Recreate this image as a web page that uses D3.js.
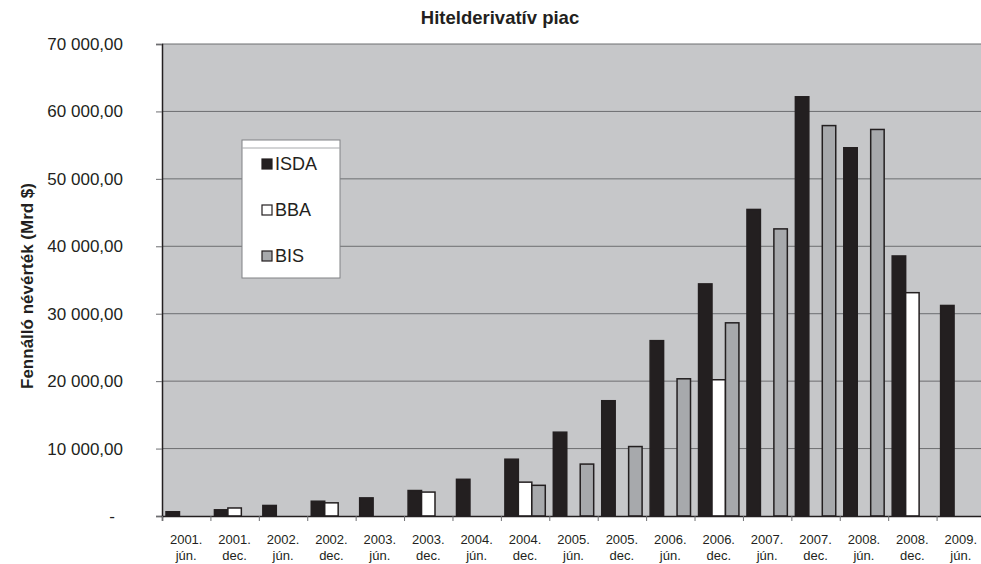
<!DOCTYPE html>
<html>
<head>
<meta charset="utf-8">
<script src="https://cdn.jsdelivr.net/npm/d3@7"></script>
<style>
  body { margin: 0; background: #fff; }
  text { font-family: "Liberation Sans", Arial, sans-serif; fill: #231f20; }
</style>
</head>
<body>
<svg id="chart-svg"></svg>
<script>
const width = 981
const height = 564

// categories (year / half-year)
const years = ['2001.', '2001.', '2002.', '2002.', '2003.', '2003.', '2004.', '2004.', '2005.',
  '2005.', '2006.', '2006.', '2007.', '2007.', '2008.', '2008.', '2009.']
const halves = ['jún.', 'dec.', 'jún.', 'dec.', 'jún.', 'dec.', 'jún.', 'dec.', 'jún.',
  'dec.', 'jún.', 'dec.', 'jún.', 'dec.', 'jún.', 'dec.', 'jún.']

const seriesNames = ['ISDA', 'BBA', 'BIS']
const isda = [632, 919, 1563, 2192, 2688, 3779, 5442, 8422, 12430, 17096, 26006, 34423, 45465, 62173, 54612, 38564, 31224]
const bba = [null, 1189, null, 1952, null, 3548, null, 5021, null, null, null, 20207, null, null, null, 33120, null]
const bis = [null, null, null, null, null, null, null, 4550, 7700, 10300, 20350, 28650, 42580, 57900, 57325, null, null]
const yTicks = [0, 10000, 20000, 30000, 40000, 50000, 60000, 70000]

const colors = { ISDA: '#231f20', BBA: '#ffffff', BIS: '#a7a9ac' }

const svg = d3.select('svg#chart-svg').attr('width', width).attr('height', height)

const pLeft = 162, pRight = 985, pTop = 44, pBottom = 516

const x0 = d3.scaleBand().domain(d3.range(years.length)).range([pLeft, pRight])
  .paddingInner(0.166).paddingOuter(0.083)
const x1 = d3.scaleBand().domain(seriesNames).range([0, x0.bandwidth()])
const y = d3.scaleLinear().domain([0, 70000]).range([pBottom, pTop])

// plot background
svg.append('rect')
  .attr('x', pLeft).attr('y', pTop)
  .attr('width', pRight - pLeft).attr('height', pBottom - pTop)
  .attr('fill', '#c6c7c9')

// gridlines
svg.append('g').selectAll('line').data(yTicks.slice(1)).enter().append('line')
  .attr('x1', pLeft).attr('x2', pRight)
  .attr('y1', d => y(d)).attr('y2', d => y(d))
  .attr('stroke', '#6d6e71').attr('stroke-width', 1)

// bars
const table = years.map((yr, i) => ({ i: i, ISDA: isda[i], BBA: bba[i], BIS: bis[i] }))
const groups = svg.append('g').selectAll('g').data(table).enter().append('g')
  .attr('transform', d => `translate(${x0(d.i)},0)`)

groups.selectAll('rect')
  .data(d => seriesNames.filter(s => d[s] != null).map(s => ({ key: s, value: d[s] })))
  .enter().append('rect')
  .attr('x', d => x1(d.key))
  .attr('y', d => y(d.value))
  .attr('width', x1.bandwidth())
  .attr('height', d => pBottom - y(d.value))
  .attr('fill', d => colors[d.key])
  .attr('stroke', '#231f20')
  .attr('stroke-width', 1.5)

// axes
const yAxis = d3.axisLeft(y).tickValues(yTicks).tickSize(6)
  .tickFormat(d => d === 0 ? '-' : d3.format(',.2f')(d).replace(/,/g, ' ').replace('.', ','))
const gy = svg.append('g').attr('transform', `translate(${pLeft},0)`).call(yAxis)
gy.select('.domain').attr('stroke', '#231f20').attr('stroke-width', 1.5)
gy.selectAll('.tick line').attr('stroke', '#6d6e71')
gy.selectAll('.tick text')
  .attr('x', -39)
  .style('font-size', '17px')
  .attr('fill', '#231f20')
gy.selectAll('.tick text').filter(d => d === 0).attr('x', -47)

const xAxis = d3.axisBottom(d3.scaleLinear().domain([0, years.length]).range([pLeft, pLeft + 17 * x0.step()]))
  .tickValues(d3.range(years.length + 1)).tickSize(5).tickFormat('')
const gx = svg.append('g').attr('transform', `translate(0,${pBottom})`).call(xAxis)
gx.select('.domain').attr('stroke', '#231f20').attr('stroke-width', 1.5)
gx.selectAll('.tick line').attr('stroke', '#6d6e71')

// category labels, two lines each
const lblX = d => x0(d.i) + x0.bandwidth() / 2
const lbl = svg.append('g').style('font-size', '13px')
lbl.selectAll('text.yr').data(table).enter().append('text')
  .attr('class', 'yr')
  .attr('text-anchor', 'middle')
  .attr('x', lblX).attr('y', 544)
  .text(d => years[d.i])
lbl.selectAll('text.hf').data(table).enter().append('text')
  .attr('class', 'hf')
  .attr('text-anchor', 'middle')
  .attr('x', lblX).attr('y', 559.5)
  .text(d => halves[d.i])

// title
svg.append('text')
  .attr('x', 500).attr('y', 24)
  .attr('text-anchor', 'middle')
  .style('font-size', '18.5px').style('font-weight', 'bold')
  .text('Hitelderivatív piac')

// y axis title
svg.append('text')
  .attr('transform', 'translate(33,286) rotate(-90)')
  .attr('text-anchor', 'middle')
  .style('font-size', '17px').style('font-weight', 'bold')
  .text('Fennálló névérték (Mrd $)')

// legend
const legend = svg.append('g').attr('transform', 'translate(242,140)')
legend.append('rect')
  .attr('x', 0).attr('y', 0).attr('width', 98).attr('height', 138)
  .attr('fill', '#fff').attr('stroke', '#808285').attr('stroke-width', 1)
legend.append('line')
  .attr('x1', 0).attr('x2', 98).attr('y1', 8).attr('y2', 8)
  .attr('stroke', '#a7a9ac')
const item = legend.selectAll('g.item').data(seriesNames).enter().append('g')
  .attr('class', 'item')
  .attr('transform', (d, i) => `translate(20,${24 + i * 46})`)
item.append('rect')
  .attr('x', 0).attr('y', -5).attr('width', 10).attr('height', 10)
  .attr('fill', d => colors[d]).attr('stroke', '#231f20').attr('stroke-width', 1.2)
item.append('text')
  .attr('x', 13).attr('y', 6)
  .style('font-size', '18px')
  .text(d => d)
</script>
</body>
</html>
